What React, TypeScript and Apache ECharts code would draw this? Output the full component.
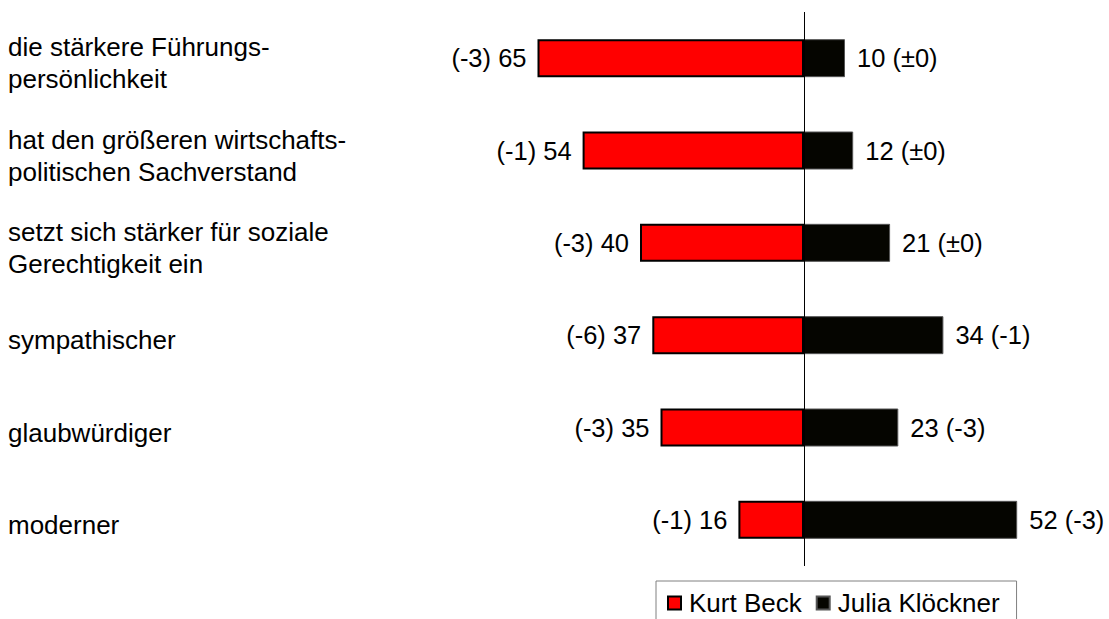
import React, { useEffect, useRef } from "react";
import * as echarts from "echarts";

const categories = [
  "die stärkere Führungs-\npersönlichkeit",
  "hat den größeren wirtschafts-\npolitischen Sachverstand",
  "setzt sich stärker für soziale\nGerechtigkeit ein",
  "sympathischer",
  "glaubwürdiger",
  "moderner",
];
const seriesNames = ["Kurt Beck", "Julia Klöckner"];
const beckValues = [65, 54, 40, 37, 35, 16];
const beckChanges = ["-3", "-1", "-3", "-6", "-3", "-1"];
const kloecknerValues = [10, 12, 21, 34, 23, 52];
const kloecknerChanges = ["±0", "±0", "±0", "-1", "-3", "-3"];

const FONT = "'Liberation Sans', Arial, sans-serif";

export default function App() {
  const ref = useRef<HTMLDivElement>(null);
  useEffect(() => {
    if (!ref.current) return;
    const chart = echarts.init(ref.current, null, { renderer: "svg" });
    chart.setOption({
      animation: false,
      backgroundColor: "#ffffff",
      grid: { left: 517, right: 38.5, top: 12, bottom: 53 },
      xAxis: {
        type: "value",
        min: -70,
        max: 65,
        show: false,
      },
      yAxis: {
        type: "category",
        inverse: true,
        data: categories,
        axisLine: { show: false },
        axisTick: { show: false },
        splitLine: { show: false },
        axisLabel: {
          align: "left",
          margin: 509,
          fontSize: 26,
          lineHeight: 32,
          color: "#000",
          fontFamily: FONT,
          formatter: (v: string) =>
            "{sp| }\n" + v.split("\n").map((l) => `{t|${l}}`).join("\n"),
          rich: {
            sp: { fontSize: 1, lineHeight: 10 },
            t: { fontSize: 26, lineHeight: 32, fontFamily: FONT, color: "#000" },
          },
        },
      },
      legend: {
        left: 656,
        top: 581,
        orient: "horizontal",
        data: seriesNames,
        icon: "rect",
        itemWidth: 13,
        itemHeight: 13,
        itemGap: 14,
        padding: [9, 17, 40, 11],
        borderColor: "#808080",
        borderWidth: 1,
        textStyle: {
          fontSize: 26,
          color: "#000",
          fontFamily: FONT,
          padding: [0, 0, 0, 3],
        },
      },
      series: [
        {
          name: seriesNames[0],
          type: "bar",
          data: beckValues.map((v) => -v),
          barWidth: 38,
          barGap: "-100%",
          itemStyle: { color: "#ff0000", borderColor: "#000", borderWidth: 2 },
          label: {
            show: true,
            position: "left",
            distance: 11,
            fontSize: 25.5,
            color: "#000",
            fontFamily: FONT,
            formatter: (p: any) => `(${beckChanges[p.dataIndex]}) ${beckValues[p.dataIndex]}`,
          },
          markLine: {
            silent: true,
            symbol: "none",
            label: { show: false },
            lineStyle: { color: "#000", width: 1, type: "solid" },
            data: [{ xAxis: 0 }],
            z: 10,
          },
        },
        {
          name: seriesNames[1],
          type: "bar",
          data: kloecknerValues,
          barWidth: 38,
          barGap: "-100%",
          itemStyle: { color: "#050500", borderColor: "#555", borderWidth: 1 },
          label: {
            show: true,
            position: "right",
            distance: 12,
            fontSize: 25.5,
            color: "#000",
            fontFamily: FONT,
            formatter: (p: any) => `${kloecknerValues[p.dataIndex]} (${kloecknerChanges[p.dataIndex]})`,
          },
        },
      ],
    });
    return () => chart.dispose();
  }, []);
  return (
    <div
      ref={ref}
      style={{ position: "absolute", left: 0, top: 0, width: 1109, height: 619 }}
    />
  );
}
